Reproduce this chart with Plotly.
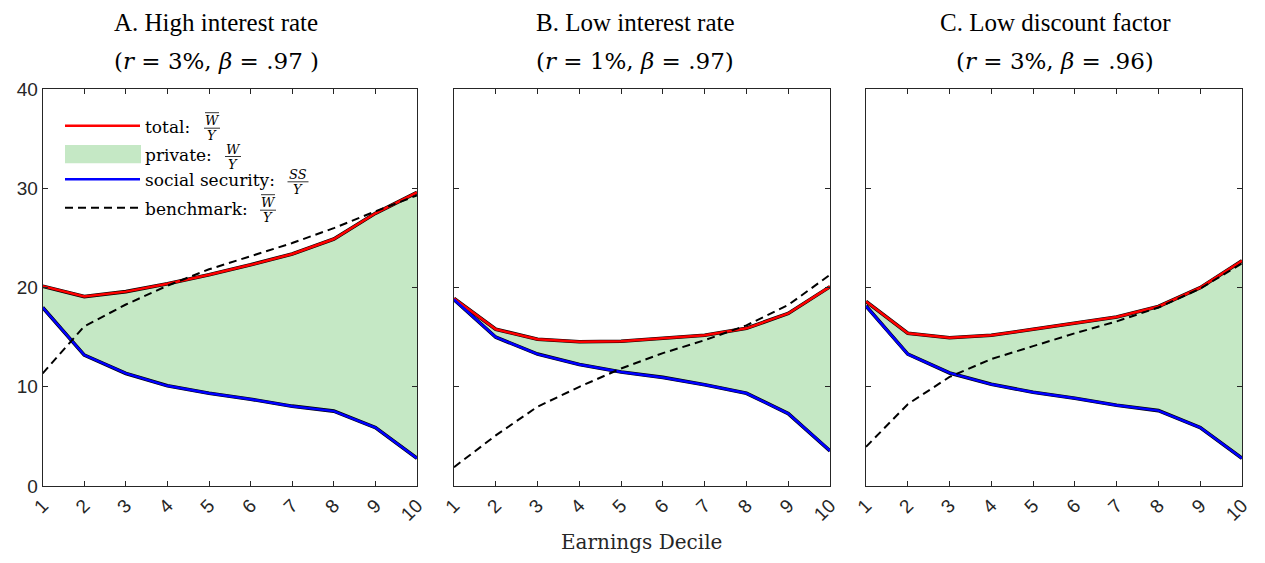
import plotly.graph_objects as go

# ---------------- data ----------------
deciles = [1, 2, 3, 4, 5, 6, 7, 8, 9, 10]
x_ticks = [1, 2, 3, 4, 5, 6, 7, 8, 9, 10]
x_tick_labels = ["1", "2", "3", "4", "5", "6", "7", "8", "9", "10"]
y_ticks = [0, 10, 20, 30, 40]
y_tick_labels = ["0", "10", "20", "30", "40"]

A_total = [20.15, 19.1, 19.6, 20.4, 21.3, 22.3, 23.4, 24.9, 27.5, 29.6]
A_ss = [18.0, 13.2, 11.35, 10.1, 9.35, 8.75, 8.05, 7.55, 5.9, 2.8]
A_bench = [11.35, 16.1, 18.3, 20.2, 21.85, 23.2, 24.5, 26.0, 27.7, 29.3]

B_total = [18.9, 15.8, 14.8, 14.55, 14.6, 14.9, 15.2, 15.9, 17.4, 20.1]
B_ss = [18.8, 15.0, 13.3, 12.25, 11.5, 10.95, 10.2, 9.35, 7.3, 3.55]
B_bench = [1.9, 5.1, 8.0, 10.0, 11.85, 13.4, 14.7, 16.2, 18.25, 21.3]

C_total = [18.6, 15.4, 14.95, 15.2, 15.8, 16.45, 17.05, 18.1, 20.0, 22.7]
C_ss = [18.15, 13.3, 11.4, 10.25, 9.45, 8.85, 8.15, 7.6, 5.9, 2.8]
C_bench = [3.95, 8.25, 11.0, 12.8, 14.1, 15.4, 16.6, 18.0, 19.9, 22.45]

panel_titles = ["A. High interest rate", "B. Low interest rate", "C. Low discount factor"]
panel_subtitles = [
    "(<i>r</i> = 3%, <i>β</i> = .97 )",
    "(<i>r</i> = 1%, <i>β</i> = .97)",
    "(<i>r</i> = 3%, <i>β</i> = .96)",
]
x_title = "Earnings Decile"

# ---------------- styling ----------------
OFF = 8  # page body margin offset
W, H = 1265 - 2 * OFF, 563 - 2 * OFF
RED = "#ff0000"
BLUE = "#0000ff"
GREEN = "rgb(197,232,197)"
AX = "#262626"
TIMES = "Liberation Serif, Times New Roman, serif"
CM = "DejaVu Serif, serif"
SANS = "Liberation Sans, Arial, sans-serif"


def px_x(p):
    return (p - OFF) / W


def px_y(p):
    return 1 - (p - OFF) / H


panels_px = [(42.7, 417.0), (454.0, 830.0), (866.0, 1242.0)]
title_cx = [216, 635, 1055]
y_top_px, y_bot_px = 89.3, 486.0
ydom = [px_y(y_bot_px), px_y(y_top_px)]

fig = go.Figure()
data = [(A_total, A_ss, A_bench), (B_total, B_ss, B_bench), (C_total, C_ss, C_bench)]

for i, (tot, ss, bench) in enumerate(data):
    xa = "x" if i == 0 else f"x{i+1}"
    ya = "y" if i == 0 else f"y{i+1}"
    fig.add_trace(go.Scatter(x=deciles, y=ss, xaxis=xa, yaxis=ya, mode="lines",
                             line=dict(color="rgba(0,0,0,0)", width=0), showlegend=False,
                             hoverinfo="skip"))
    fig.add_trace(go.Scatter(x=deciles, y=tot, xaxis=xa, yaxis=ya, mode="lines",
                             fill="tonexty", fillcolor=GREEN,
                             line=dict(color="rgba(0,0,0,0)", width=0), showlegend=False,
                             hoverinfo="skip"))
    for s in (tot, ss):
        fig.add_trace(go.Scatter(x=deciles, y=s, xaxis=xa, yaxis=ya, mode="lines",
                                 line=dict(color="black", width=3.6), showlegend=False))
    fig.add_trace(go.Scatter(x=deciles, y=tot, xaxis=xa, yaxis=ya, mode="lines",
                             line=dict(color=RED, width=2.5), showlegend=False))
    fig.add_trace(go.Scatter(x=deciles, y=ss, xaxis=xa, yaxis=ya, mode="lines",
                             line=dict(color=BLUE, width=2.5), showlegend=False))
    fig.add_trace(go.Scatter(x=deciles, y=bench, xaxis=xa, yaxis=ya, mode="lines",
                             line=dict(color="black", width=2, dash="8px,5px"),
                             showlegend=False))

layout = dict(
    width=W, height=H,
    margin=dict(l=0, r=0, t=0, b=0),
    paper_bgcolor="white", plot_bgcolor="white",
    showlegend=False,
)
for i, (x0, x1) in enumerate(panels_px):
    xk = "xaxis" if i == 0 else f"xaxis{i+1}"
    yk = "yaxis" if i == 0 else f"yaxis{i+1}"
    yname = "y" if i == 0 else f"y{i+1}"
    xname = "x" if i == 0 else f"x{i+1}"
    layout[xk] = dict(domain=[px_x(x0), px_x(x1)], anchor=yname, range=[1, 10],
                      tickvals=x_ticks, ticktext=x_tick_labels, tickangle=-45,
                      ticks="inside", ticklen=5, tickcolor=AX, tickwidth=1,
                      showline=True, linecolor=AX, linewidth=1, mirror="ticks",
                      showgrid=False, zeroline=False, automargin=False,
                      tickfont=dict(family=SANS, size=19, color=AX))
    layout[yk] = dict(domain=ydom, anchor=xname, range=[0, 40],
                      tickvals=y_ticks, ticktext=y_tick_labels,
                      showticklabels=(i == 0),
                      ticks="inside", ticklen=5, tickcolor=AX, tickwidth=1,
                      showline=True, linecolor=AX, linewidth=1, mirror="ticks",
                      showgrid=False, zeroline=False, automargin=False,
                      tickfont=dict(family=SANS, size=19, color=AX))
fig.update_layout(**layout)

annotations = []
for i in range(3):
    cx = px_x(title_cx[i])
    annotations.append(dict(x=cx, y=1, xref="paper", yref="paper", text=panel_titles[i],
                            showarrow=False, xanchor="center", yanchor="top", borderpad=0,
                            font=dict(family=TIMES, size=25, color="black")))
    annotations.append(dict(x=cx, y=px_y(61), xref="paper", yref="paper", text=panel_subtitles[i],
                            showarrow=False, xanchor="center", yanchor="middle",
                            font=dict(family=CM, size=23, color="black")))
annotations.append(dict(x=px_x(642), y=0, xref="paper", yref="paper", text=x_title,
                        showarrow=False, xanchor="center", yanchor="bottom", borderpad=0,
                        font=dict(family=CM, size=20, color="#262626")))

# ---------------- custom legend in panel A ----------------
ax0, ax1 = panels_px[0]
ph = y_bot_px - y_top_px
pw = ax1 - ax0


def dx(px):
    return (px - ax0) / pw


def dy(py):
    return (y_bot_px - py) / ph


shapes = []
entries = [
    ("total:", 125.7, "line", RED, 212, "W", True),
    ("private:", 154.0, "rect", GREEN, 233, "W", False),
    ("social security:", 179.3, "line", BLUE, 298, "SS", False),
    ("benchmark:", 207.7, "dash", "black", 268, "W", True),
]
for label, ly, kind, col, fx, num, bar in entries:
    if kind == "line":
        shapes.append(dict(type="line", xref="x domain", yref="y domain",
                           x0=dx(65), x1=dx(140), y0=dy(ly), y1=dy(ly),
                           line=dict(color=col, width=2.5)))
    elif kind == "rect":
        shapes.append(dict(type="rect", xref="x domain", yref="y domain",
                           x0=dx(65), x1=dx(141), y0=dy(163.3), y1=dy(145),
                           fillcolor=col, line=dict(width=0)))
    else:
        shapes.append(dict(type="line", xref="x domain", yref="y domain",
                           x0=dx(65), x1=dx(140), y0=dy(ly), y1=dy(ly),
                           line=dict(color=col, width=2, dash="8px,5px")))
    annotations.append(dict(x=dx(144), y=dy(ly + 1), xref="x domain", yref="y domain",
                            text=label, showarrow=False, xanchor="left", yanchor="middle",
                            borderpad=0,
                            font=dict(family=CM, size=17, color="black")))
    annotations.append(dict(x=dx(fx), y=dy(ly - 5), xref="x domain", yref="y domain",
                            text=f"<i>{num}</i>", showarrow=False, xanchor="center", yanchor="middle",
                            borderpad=0,
                            font=dict(family=CM, size=13, color="black")))
    annotations.append(dict(x=dx(fx), y=dy(ly + 10), xref="x domain", yref="y domain",
                            text="<i>Y</i>", showarrow=False, xanchor="center", yanchor="middle",
                            borderpad=0,
                            font=dict(family=CM, size=13, color="black")))
    half = 10.5 if num == "SS" else 8
    shapes.append(dict(type="line", xref="x domain", yref="y domain",
                       x0=dx(fx - half), x1=dx(fx + half), y0=dy(ly + 2.5), y1=dy(ly + 2.5),
                       line=dict(color="black", width=0.8)))
    if bar:
        shapes.append(dict(type="line", xref="x domain", yref="y domain",
                           x0=dx(fx - 7), x1=dx(fx + 7), y0=dy(ly - 13), y1=dy(ly - 13),
                           line=dict(color="black", width=0.8)))

fig.update_layout(annotations=annotations, shapes=shapes)
fig.write_html("out.html")
